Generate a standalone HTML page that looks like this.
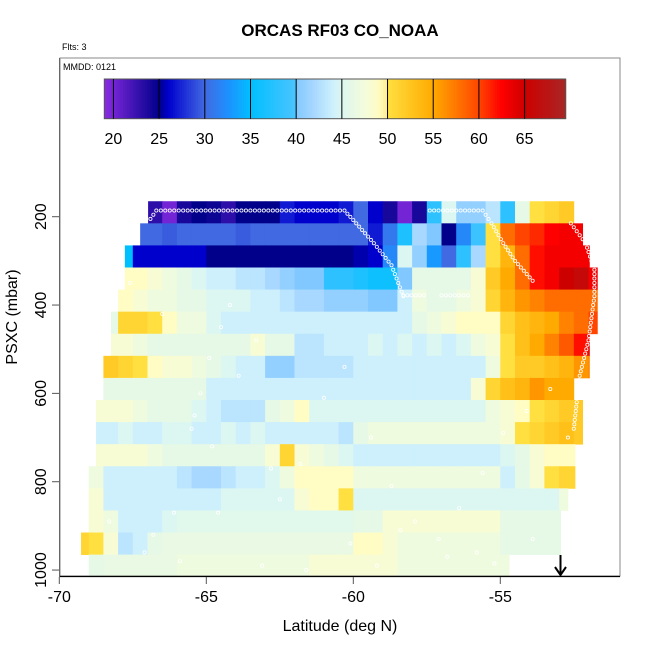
<!DOCTYPE html>
<html><head><meta charset="utf-8"><style>
body{margin:0;background:#fff}
svg{display:block;font-family:"Liberation Sans",Arial,sans-serif}
</style></head><body>
<svg id="chart" width="650" height="650" viewBox="0 0 650 650" xmlns="http://www.w3.org/2000/svg">
<rect width="650" height="650" fill="#fff"/>
<text x="340" y="36" text-anchor="middle" font-size="17" font-weight="bold">ORCAS RF03 CO_NOAA</text>
<text x="62" y="50" font-size="9">Flts: 3</text>
<text x="63" y="70" font-size="9">MMDD: 0121</text>
<g id="cells"></g>
<g id="track"></g>
<g id="cbar"></g>
<rect x="60" y="58" width="560" height="518" fill="none" stroke="#888" stroke-width="1"/>
<line x1="60" y1="576.5" x2="620" y2="576.5" stroke="#000" stroke-width="1.3"/>
<line x1="59.5" y1="58" x2="59.5" y2="577" stroke="#666" stroke-width="1"/>
<g id="axes"></g>
<g stroke="#000" stroke-width="2" fill="none">
<line x1="560.5" y1="555" x2="560.5" y2="575"/><polyline points="555,567 560.5,575 566,567"/>
</g>
<text x="340" y="631" text-anchor="middle" font-size="16">Latitude (deg N)</text>
<text transform="translate(17,317) rotate(-90)" text-anchor="middle" font-size="16">PSXC (mbar)</text>
</svg>
<script>
const rowP=[190,240,290,340,390,440,490,540,590,640,690,740,790,840,890,940,990];
const rowStart=[-66.98,-67.25,-67.77,-67.77,-68.0,-68.24,-68.24,-68.5,-68.5,-68.75,-68.75,-68.75,-69.0,-69.0,-69.0,-69.26,-69.0];
const rowEnd=[-52.46,-52.2,-51.97,-51.7,-51.7,-51.7,-51.97,-51.97,-52.2,-52.2,-52.2,-52.46,-52.46,-52.7,-52.95,-52.95,-54.7];
const rowVals=[
[23,20,24,25,24.5,23,25,25,25,27,26,26,26,27,30,26,24,20,24,38,45,41,41,43,38,46,50,51,52],
[30,30,29.5,30,30,30,30,29.5,30,30,30,30,30,30,30,30,27,31,37,42,40,25,32,39,50,58,60,61,62.5,63,63],
[35,26,26,26,26,26,25,25,25,25,25,25,25,25,25,25,25.5,26,32,45,41,33,30,38,42,50,54,58,62,63,63,63,63],
[49,49,48,47,46,45,44,44,43,43,42,41,40,40,38,38,37,36,36,40,46,46,46,46,48,52,55,58,62,63,65,66,63],
[49,48,47,47,46,46,45,45,45,44,44,43,42,42,41,41,41,40,40,44,47,46,46,47,48,51,54,56,57,58,58,58,58],
[46,51,51,50,49,47,47,45,44,44,44,44,44,44,44,44,44,44,44,44,44,46,47,48,49,49,49,51,53,54,55,57,58,60],
[48,48,47,46,46,46,46,46,46,46,48,46,46,43,43,44,44,44,45,44,45,44,45,44,45,47,48,50,53,55,57,59,62,64],
[52,51,50,49,48,48,47,46,45,44,44,41,41,43,43,43,43,44,44,44,44,44,44,44,44,44,47,50,52,52,53,54,56,57],
[46,46,46,46,46,46,46,44,44,44,44,44,44,44,44,44,44,44,44,44,44,44,44,44,44,48,51,53,54,56,55,55],
[48,48,48,47,46,46,46,45,44,43,43,43,46,47,49,45,45,45,45,45,45,45,45,45,45,45,45,47,48,49,50,51,52,52],
[44,44,45,44,44,45,45,44,44,45,44,45,44,44,44,44,44,43,46,47,47,47,47,47,47,47,47,47,48,50,51,52,53,52],
[48,48,48,48,47,46,46,46,46,46,46,46,48,51,48,47,46,45,44,44,44,44,44,44,44,44,44,44,45,46,48,49,49,49],
[47,44,44,44,44,44,43,42,42,43,44,44,45,47,49,49,49,49,47,47,47,47,47,47,47,47,47,47,44,46,48,50,51,51],
[48,44,44,44,44,44,44,44,44,45,45,45,45,45,48,49,49,50,45,45,45,45,45,45,45,45,45,45,45,45,45,45,47],
[48,47,44,44,44,45,45.5,45.5,45.5,45.5,45.5,45.5,45.5,45.5,45.5,45.5,45.5,45.5,46,46,48,48,48,48,48,48,48,48,46,46,46,46,46],
[51,50,48,43,44,46,46.5,46.5,46.5,46.5,46.5,46.5,46.5,46.5,46.5,46.5,46.5,46.5,46.5,49,49,48,47,47,47,47,47,47,47,46,46,46,46,46],
[46,46.5,46.5,46.5,46.5,46.5,47,47,47,47,47,47,47,47,47,48,48,48,48,48,48,47,47,47,47,47,47,47,47]
];
// flight track legs (null = break between legs)
const trackLat=[-66.9,-66.7,-60.3,-59.9,-59.3,-58.7,-58.3,null,-58.3,-57.6,null,-57.0,-56.1,null,-57.4,-55.6,-55.3,-54.9,-54.5,-54.1,-53.9,null,-52.6,-52.1,-51.8,-51.8,-51.9,-52.0,-52.3,-52.5];
const trackP=[205,186,186,215,260,310,380,null,378,378,null,378,378,null,186,186,215,260,300,330,345,null,215,260,320,380,430,480,560,680];
const scatLat=[-67.6,-66.8,-66.1,-65.4,-64.8,-63.9,-63.3,-62.5,-61.8,-61,-60.3,-59.4,-58.7,-57.9,-57.1,-56.4,-55.6,-54.9,-54.1,-53.3,-52.7,-68.3,-67.1,-65.9,-64.6,-63.1,-61.6,-60.1,-58.4,-56.8,-55.2,-53.9,-66.5,-62.8,-59.2,-55.8,-64.2,-64.5,-64.9,-65.2,-65.5];
const scatP=[350,920,870,650,720,560,480,840,760,610,540,700,810,890,930,860,780,690,640,590,700,890,960,980,870,990,1000,940,910,970,985,930,420,770,990,960,400,450,520,600,680];

const X0=59.3, XS=29.4, Y200=216.7, YS=0.4417;
const xs=lat=>X0+(lat+70)*XS;
const ys=p=>Y200+(p-200)*YS;
const stops=[[19,'#8a2be2'],[25,'#00008b'],[26,'#0000cd'],[30,'#4169e1'],[32.5,'#1e90ff'],[35,'#00bfff'],[39.9,'#4ac4ff'],[40,'#80c8ff'],[42,'#a8d8ff'],[44,'#cdf0fc'],[45,'#dcf7f2'],[46,'#e6f8e6'],[47.5,'#f3fcdc'],[49,'#fffcc4'],[49.99,'#ffec90'],[50,'#ffe040'],[55,'#ffaa00'],[60,'#ff4500'],[62.5,'#ff0000'],[65,'#cd0000'],[70,'#a52a2a']];
function hex(h){return [1,3,5].map(i=>parseInt(h.substr(i,2),16));}
function col(v){
 if(v<=stops[0][0])return stops[0][1];
 for(let i=1;i<stops.length;i++){if(v<=stops[i][0]){const a=hex(stops[i-1][1]),b=hex(stops[i][1]);const t=(v-stops[i-1][0])/(stops[i][0]-stops[i-1][0]);return 'rgb('+a.map((c,k)=>Math.round(c+(b[k]-c)*t)).join(',')+')';}}
 return stops[stops.length-1][1];
}
const NS='http://www.w3.org/2000/svg';
function mk(tag,attrs,parent){const e=document.createElementNS(NS,tag);for(const k in attrs)e.setAttribute(k,attrs[k]);parent.appendChild(e);return e;}
const cells=document.getElementById('cells');
rowP.forEach((p,r)=>{
 const g0=Math.floor(rowStart[r]*2)/2;
 rowVals[r].forEach((v,i)=>{
  let a=Math.max(g0+i*0.5,rowStart[r]), b=Math.min(g0+(i+1)*0.5,rowEnd[r]);
  if(b<=a)return;
  const x1=xs(a),x2=xs(b),y1=ys(p-25),y2=ys(p+25);
  const e=mk('rect',{x:x1.toFixed(2),y:y1.toFixed(2),width:(x2-x1+0.4).toFixed(2),height:(y2-y1+0.4).toFixed(2),fill:col(v)},cells);
  
  
 });
});
const track=document.getElementById('track');
function pt(lat,p){
 const c=mk('circle',{cx:xs(lat),cy:ys(p),r:1.6,fill:'none',stroke:'#fff','stroke-width':0.8},track);
 
 
}
for(let i=0;i<trackLat.length;i++){
 if(trackLat[i]===null)continue;
 pt(trackLat[i],trackP[i]);
 if(i+1<trackLat.length&&trackLat[i+1]!==null){
  const dx=xs(trackLat[i+1])-xs(trackLat[i]),dy=ys(trackP[i+1])-ys(trackP[i]);
  const n=Math.max(1,Math.round(Math.hypot(dx,dy)/4.5));
  for(let k=1;k<n;k++){const t=k/n;pt(trackLat[i]+(trackLat[i+1]-trackLat[i])*t,trackP[i]+(trackP[i+1]-trackP[i])*t);}
 }
}
scatLat.forEach((lat,i)=>pt(lat,scatP[i]));
// colorbar
const cbar=document.getElementById('cbar');
const cbTicks=[20,25,30,35,40,45,50,55,60,65];
const CB0=104.3,CB1=565.7,CBV0=19,CBV1=69.5;
const cx=v=>CB0+(v-CBV0)/(CBV1-CBV0)*(CB1-CB0);
for(let v=CBV0;v<CBV1;v+=0.25){
 const r=mk('rect',{x:cx(v),y:79,width:cx(v+0.25)-cx(v)+0.4,height:39.7,fill:col(v+0.125)},cbar);
 
 
}
mk('rect',{x:CB0,y:79,width:CB1-CB0,height:39.7,fill:'none',stroke:'#555','stroke-width':1},cbar);
cbTicks.forEach(v=>{
 const l=mk('line',{x1:cx(v),y1:79,x2:cx(v),y2:118.7,stroke:'#000','stroke-width':1},cbar);
 
 
 const t=mk('text',{x:cx(v),y:144,'text-anchor':'middle','font-size':16},cbar);
 t.textContent=v;
 
 
});
// axes
const axes=document.getElementById('axes');
const xTicks=[-70,-65,-60,-55];
const yTicks=[200,400,600,800,1000];
xTicks.forEach(v=>{
 const l=mk('line',{x1:xs(v),y1:577,x2:xs(v),y2:584,stroke:'#555'},axes);
 
 
 const t=mk('text',{x:xs(v),y:602,'text-anchor':'middle','font-size':16},axes);
 t.textContent=v;
 
 
});
yTicks.forEach(v=>{
 const l=mk('line',{x1:52,y1:ys(v),x2:59,y2:ys(v),stroke:'#555'},axes);
 
 
 const t=mk('text',{transform:'translate(46,'+ys(v)+') rotate(-90)','text-anchor':'middle','font-size':16},axes);
 t.textContent=v;
 
 
});
</script>
</body></html>
